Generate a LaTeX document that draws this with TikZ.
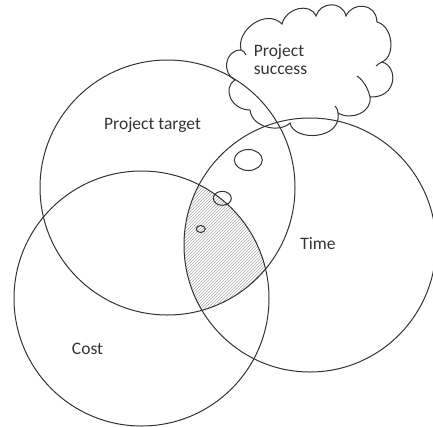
\documentclass[tikz,border=0pt]{standalone}
\usepackage{fontspec}
\setmainfont{Carlito}
\usetikzlibrary{patterns,positioning}
\tikzset{setline/.style={draw=black!80, line width=1pt}}
\tikzset{hole/.style={draw=black!80, line width=1pt}}
\tikzset{setname/.style={font=\fontsize{17.5}{18}\selectfont, text=black!80, inner sep=0pt}}

\begin{document}
\begin{tikzpicture}[x=1pt, y=-1pt]
  \useasboundingbox (0,0) rectangle (433,426);

    %%%% Centres of the three sets
    \coordinate (ctarget) at (167.5,187.5);
    \coordinate (ccost)   at (141.5,298.5);
    \coordinate (ctime)   at (310,245);

    %%%% Hatched overlap
    \begin{scope}
      \clip (ctarget) circle (127.5pt);
      \clip (ccost) circle (127.5pt);
      \fill[pattern=north east lines, pattern color=black!33] (ctime) ellipse [x radius=126pt, y radius=127pt];
    \end{scope}

    %%%% Sets
    \draw[setline] (ctarget) circle (127.5pt);
    \draw[setline] (ccost) circle (127.5pt);
    \draw[setline] (ctime) ellipse [x radius=126pt, y radius=127pt];

    %%%% Small holes
    \draw[hole] (248.3,160) ellipse [x radius=14pt, y radius=10.5pt];
    \draw[hole] (222.3,198.3) ellipse [x radius=9pt, y radius=7pt];
    \draw[hole] (200.7,229) ellipse [x radius=4.5pt, y radius=3.5pt];

    %%%% Cloud
    \draw[setline] (241,50) .. controls (236,30) and (266,8) .. (282,24)
      .. controls (286,8) and (310,2) .. (316,16)
      .. controls (320,2) and (342,0) .. (346,16)
      .. controls (352,2) and (376,2) .. (377,22)
      .. controls (393,26) and (396,56) .. (382,62)
      .. controls (398,66) and (398,98) .. (370,97)
      .. controls (372,112) and (352,121) .. (338,113)
      .. controls (342,140) and (294,142) .. (290,123)
      .. controls (280,133) and (252,128) .. (250,110)
      .. controls (231,110) and (222,88) .. (235,80)
      .. controls (222,74) and (224,50) .. (241,50);
    %% curls
    \draw[setline] (370,97) .. controls (368,88) and (363,80) .. (357,76);
    \draw[setline] (338,113) .. controls (338,110) and (337,108) .. (335,106);
    \draw[setline] (382,62) .. controls (380,63) and (378,64) .. (376,66);
    \draw[setline] (241,50) .. controls (243,51) and (245,52) .. (246,55);

    %%%% Labels
    \node[setname, anchor=base] (target) at (152.5,129) {Project target};
    \node[setname, anchor=base] (time) at (318,249) {Time};
    \node[setname, anchor=base] (cost) at (87.5,354) {Cost};
    \node[setname, align=left] (success) at (280.5,60) {Project\\success};

\end{tikzpicture}
\end{document}
